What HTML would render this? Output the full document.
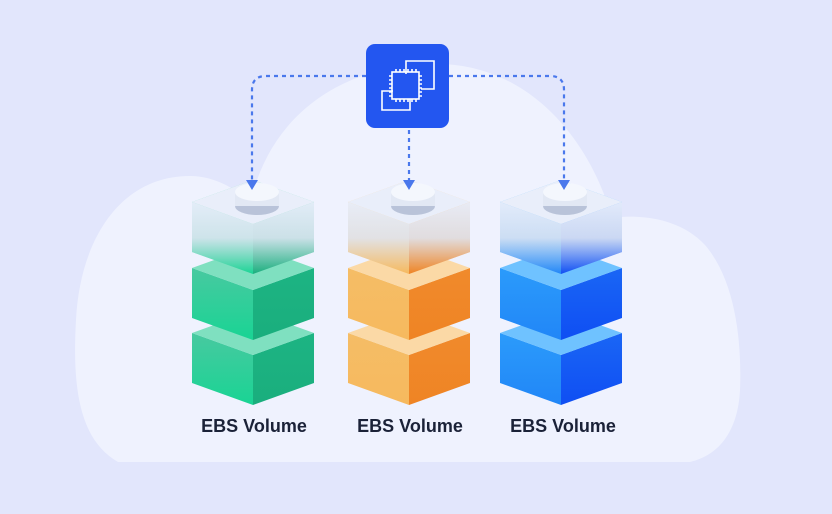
<!DOCTYPE html>
<html><head><meta charset="utf-8"><style>
html,body{margin:0;padding:0;background:#e2e6fc;}
svg{display:block}
</style></head><body>
<svg width="832" height="514" viewBox="0 0 832 514" xmlns="http://www.w3.org/2000/svg">
<defs>
<linearGradient id="gl" x1="0" y1="0" x2="0" y2="1"><stop offset="0" stop-color="#48c9a0"/><stop offset="1" stop-color="#19d494"/></linearGradient>
<linearGradient id="gr" x1="0" y1="0" x2="0" y2="1"><stop offset="0" stop-color="#1db483"/><stop offset="1" stop-color="#1aae7d"/></linearGradient>
<linearGradient id="ol" x1="0" y1="0" x2="0" y2="1"><stop offset="0" stop-color="#f5bd66"/><stop offset="1" stop-color="#f6b95e"/></linearGradient>
<linearGradient id="or" x1="0" y1="0" x2="0" y2="1"><stop offset="0" stop-color="#f08a2c"/><stop offset="1" stop-color="#ef8424"/></linearGradient>
<linearGradient id="bl" x1="0" y1="0" x2="0" y2="1"><stop offset="0" stop-color="#2b9bfb"/><stop offset="1" stop-color="#2186f7"/></linearGradient>
<linearGradient id="br" x1="0" y1="0" x2="0" y2="1"><stop offset="0" stop-color="#1a66f5"/><stop offset="1" stop-color="#0f4ef3"/></linearGradient>
<linearGradient id="frost" x1="0" y1="0" x2="0" y2="1"><stop offset="0" stop-color="#e8eefb" stop-opacity="0.97"/><stop offset="0.5" stop-color="#dfe6f3" stop-opacity="0.9"/><stop offset="1" stop-color="#dfe6f3" stop-opacity="0"/></linearGradient>
</defs>
<path d="M118 462 C80 440 72 390 76 320 C80 240 120 176 190 176 C215 176 240 190 250 205 C270 110 350 62 440 64 C530 66 590 140 612 218 C640 214 680 218 705 245 C735 280 742 340 740 390 C738 430 720 455 690 462 Z" fill="#eff2fe"/>
<g id="stacks"></g>
<g fill="none" stroke="#4a78ec" stroke-width="2.2" stroke-dasharray="4 4">
<path d="M366 76 H266 Q252 76 252 90 V180"/>
<path d="M449 76 H550 Q564 76 564 90 V180"/>
<path d="M409 130 V180"/>
</g>
<g fill="#4a78ec">
<path d="M246 180 L258 180 L252 190 Z"/>
<path d="M403 180 L415 180 L409 190 Z"/>
<path d="M558 180 L570 180 L564 190 Z"/>
</g>
<rect x="366" y="44" width="83" height="84" rx="9" fill="#2356f0"/>
<g fill="none" stroke="#fff" stroke-width="1.6">
<path d="M406 74 V61 H434 V89 H421"/>
<path d="M393 91 H382 V110 H410 V99"/>
<rect x="392" y="72" width="27" height="27"/>
<path d="M396 72 v-3 M400 72 v-3 M404 72 v-3 M408 72 v-3 M412 72 v-3 M416 72 v-3 M396 99 v3 M400 99 v3 M404 99 v3 M408 99 v3 M412 99 v3 M416 99 v3 M392 76 h-3 M392 80 h-3 M392 84 h-3 M392 88 h-3 M392 92 h-3 M392 96 h-3 M419 76 h3 M419 80 h3 M419 84 h3 M419 88 h3 M419 92 h3 M419 96 h3"/>
</g>
<g font-family="Liberation Sans, sans-serif" font-weight="bold" font-size="18" fill="#1b2238" text-anchor="middle">
<text x="254" y="432">EBS Volume</text>
<text x="410" y="432">EBS Volume</text>
<text x="563" y="432">EBS Volume</text>
</g>
<script>
(function(){
var g=document.getElementById('stacks');var ns='http://www.w3.org/2000/svg';
function add(tag,attrs){var e=document.createElementNS(ns,tag);for(var k in attrs)e.setAttribute(k,attrs[k]);g.appendChild(e);return e;}
var stacks=[[253,'gl','gr','#7fe0c0'],[409,'ol','or','#fbd9a6'],[561,'bl','br','#6fc2ff']];
stacks.forEach(function(s){
 var cx=s[0],x0=cx-61,x1=cx+61,h=50,d=22;
 [311,246,180].forEach(function(T,i){
  add('polygon',{points:x0+','+(T+d)+' '+cx+','+(T+2*d)+' '+cx+','+(T+2*d+h)+' '+x0+','+(T+d+h),fill:'url(#'+s[1]+')'});
  add('polygon',{points:x1+','+(T+d)+' '+cx+','+(T+2*d)+' '+cx+','+(T+2*d+h)+' '+x1+','+(T+d+h),fill:'url(#'+s[2]+')'});
  add('polygon',{points:x0+','+(T+d)+' '+cx+','+T+' '+x1+','+(T+d)+' '+cx+','+(T+2*d),fill:s[3]});
  if(i==2){
   add('polygon',{points:x0+','+(T+d)+' '+cx+','+(T+2*d)+' '+cx+','+(T+2*d+h)+' '+x0+','+(T+d+h),fill:'url(#frost)'});
   add('polygon',{points:x1+','+(T+d)+' '+cx+','+(T+2*d)+' '+cx+','+(T+2*d+h)+' '+x1+','+(T+d+h),fill:'url(#frost)'});
   add('polygon',{points:x0+','+(T+d)+' '+cx+','+T+' '+x1+','+(T+d)+' '+cx+','+(T+2*d),fill:'#e9eefa'});
   add('ellipse',{cx:cx+4,cy:T+26,rx:22,ry:9,fill:'#b9c3d9'});
   add('rect',{x:cx-18,y:T+12,width:44,height:14,fill:'#e2e8f4'});
   add('ellipse',{cx:cx+4,cy:T+12,rx:22,ry:9,fill:'#f4f7fd'});
  }
 });
});
})();
</script>
</svg>
</body></html>
